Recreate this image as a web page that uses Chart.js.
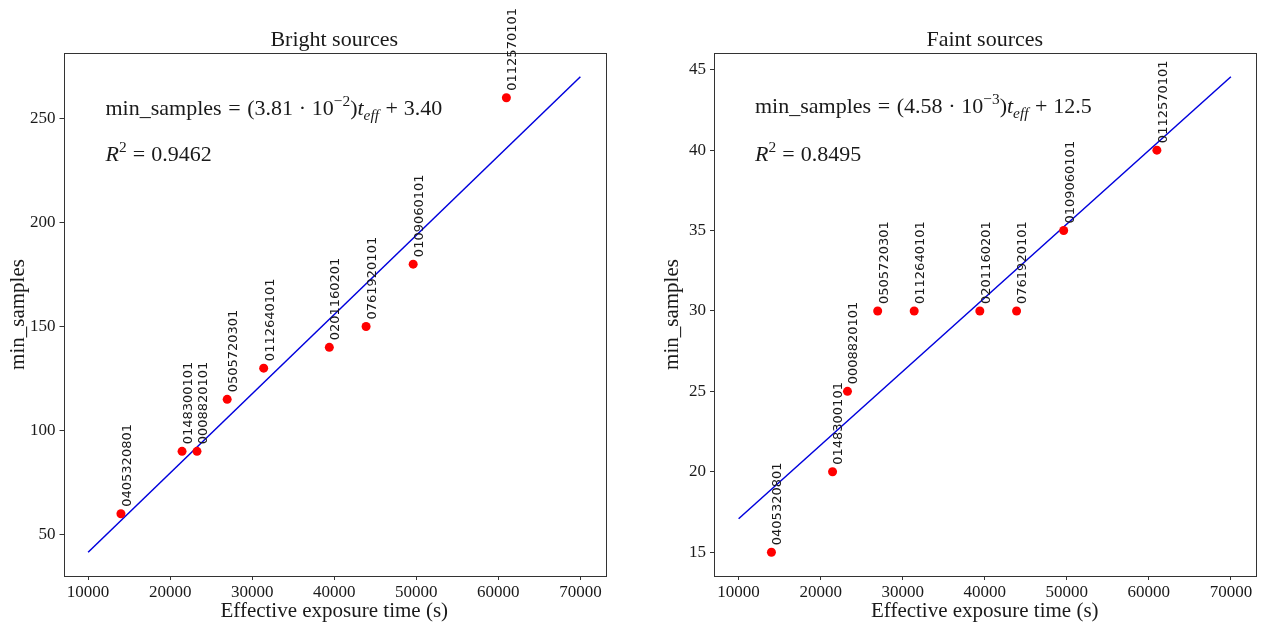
<!DOCTYPE html>
<html>
<head>
<meta charset="utf-8">
<script src="https://cdn.jsdelivr.net/npm/chart.js@4/dist/chart.umd.min.js"></script>
<style>
  html, body { margin: 0; padding: 0; background: #fff; }
  .panel { position: absolute; top: 0; height: 624px; }
  #leftPanel { left: 0; width: 660px; }
  #rightPanel { left: 660px; width: 603px; }
</style>
</head>
<body>
<div class="panel" id="leftPanel"><canvas id="chartBright"></canvas></div>
<div class="panel" id="rightPanel"><canvas id="chartFaint"></canvas></div>
<script>
// observations, shared by both panels
const obsIds = ['0405320801', '0148300101', '0008820101', '0505720301', '0112640101',
                '0201160201', '0761920101', '0109060101', '0112570101'];
const exposureTimes = [14000, 21450, 23270, 26950, 31400, 39400, 43880, 49620, 60980];
const brightMinSamples = [60, 90, 90, 115, 130, 140, 150, 180, 260];
const faintMinSamples = [15, 20, 25, 30, 30, 30, 30, 35, 40];

// linear fits, evaluated at the ends of the fitted range
const fitX = [10000, 70000];
const brightFitY = [41.5, 270.1];
const faintFitY = [17.08, 44.56];

const xTicks = [10000, 20000, 30000, 40000, 50000, 60000, 70000];
const brightYTicks = [50, 100, 150, 200, 250];
const faintYTicks = [15, 20, 25, 30, 35, 40, 45];

const SERIF = '"Liberation Serif", "DejaVu Serif", serif';
const INK = '#1a1a1a';

// draw a row of text runs (roman / italic / super / subscript)
function drawMath(ctx, x, y, runs, size) {
    let cx = x;
    runs.forEach(r => {
        const s = size * (r.scale || 1);
        ctx.font = (r.italic ? 'italic ' : '') + s + 'px ' + SERIF;
        cx += (r.pre || 0) * size;
        ctx.fillText(r.t, cx, y + (r.dy || 0) * size);
        cx += ctx.measureText(r.t).width + (r.post || 0) * size;
    });
}

const frameBox = {
    id: 'frameBox',
    afterDatasetsDraw(chart) {
        const { ctx, chartArea: a } = chart;
        ctx.save();
        ctx.strokeStyle = '#333';
        ctx.lineWidth = 1;
        ctx.strokeRect(Math.round(a.left) + 0.5, Math.round(a.top) + 0.5,
                       Math.round(a.right - a.left), Math.round(a.bottom - a.top));
        ctx.restore();
    }
};

const pointLabels = {
    id: 'pointLabels',
    afterDatasetsDraw(chart) {
        const { ctx } = chart;
        const meta = chart.getDatasetMeta(0);
        ctx.save();
        ctx.fillStyle = INK;
        ctx.font = '13px "DejaVu Sans"';
        ctx.textAlign = 'left';
        ctx.textBaseline = 'middle';
        meta.data.forEach((pt, i) => {
            ctx.save();
            ctx.translate(pt.x + 6.5, pt.y - 7);
            ctx.rotate(-Math.PI / 2);
            ctx.fillText(obsIds[i], 0, 0);
            ctx.restore();
        });
        ctx.restore();
    }
};

const fitText = {
    id: 'fitText',
    afterDraw(chart, args, opts) {
        const { ctx, chartArea: a } = chart;
        ctx.save();
        ctx.fillStyle = INK;
        ctx.textBaseline = 'alphabetic';
        ctx.textAlign = 'left';
        drawMath(ctx, a.left + opts.dx, a.top + opts.y1, opts.eq, 22);
        drawMath(ctx, a.left + opts.dx, a.top + opts.y2, opts.r2, 22);
        ctx.restore();
    }
};

function makeChart(canvasId, cfg) {
    const tickFont = { family: SERIF, size: 17 };
    return new Chart(document.getElementById(canvasId), {
        type: 'scatter',
        data: {
            datasets: [
                {
                    data: exposureTimes.map((x, i) => ({ x, y: cfg.values[i] })),
                    backgroundColor: '#ff0000',
                    borderColor: '#ff0000',
                    pointRadius: 4.5,
                    pointBorderWidth: 0
                },
                {
                    data: fitX.map((x, i) => ({ x, y: cfg.fitY[i] })),
                    showLine: true,
                    borderColor: '#0000dd',
                    borderWidth: 1.5,
                    pointRadius: 0
                }
            ]
        },
        options: {
            responsive: true,
            maintainAspectRatio: false,
            animation: false,
            layout: { padding: { left: 0, right: cfg.padRight, top: 0, bottom: 0 } },
            plugins: {
                legend: { display: false },
                tooltip: { enabled: false },
                title: {
                    display: true,
                    text: cfg.title,
                    fullSize: false,
                    color: INK,
                    font: { family: SERIF, size: 22, weight: 'normal' },
                    padding: { top: 26.6, bottom: 0 }
                },
                fitText: { dx: cfg.textDx, y1: cfg.textY1, y2: cfg.textY2, eq: cfg.eq, r2: cfg.r2 }
            },
            scales: {
                x: {
                    type: 'linear',
                    min: 7000,
                    max: 73000,
                    afterBuildTicks: s => { s.ticks = xTicks.map(v => ({ value: v })); },
                    afterFit: s => { s.height = 48; },
                    border: { display: false },
                    grid: { drawOnChartArea: false, drawTicks: true, tickLength: 4, color: '#333' },
                    ticks: { color: INK, font: tickFont, padding: 2, maxRotation: 0, callback: v => String(v) },
                    title: {
                        display: true,
                        text: 'Effective exposure time (s)',
                        color: INK,
                        font: { family: SERIF, size: 21 },
                        padding: { top: 0, bottom: 0 }
                    }
                },
                y: {
                    type: 'linear',
                    min: cfg.yMin,
                    max: cfg.yMax,
                    afterBuildTicks: s => { s.ticks = cfg.yTicks.map(v => ({ value: v })); },
                    afterFit: s => { s.width = cfg.axisWidth; },
                    border: { display: false },
                    grid: { drawOnChartArea: false, drawTicks: true, tickLength: 4, color: '#333' },
                    ticks: { color: INK, font: tickFont, padding: 4, callback: v => String(v) },
                    title: {
                        display: true,
                        text: 'min_samples',
                        color: INK,
                        font: { family: SERIF, size: 21 },
                        padding: { top: cfg.yTitlePad, bottom: 0 }
                    }
                }
            }
        },
        plugins: [frameBox, pointLabels, fitText]
    });
}

makeChart('chartBright', {
    title: 'Bright sources',
    values: brightMinSamples,
    fitY: brightFitY,
    yTicks: brightYTicks,
    yMin: 30.07,
    yMax: 281.5,
    padRight: 55,
    axisWidth: 63.5,
    yTitlePad: 5.8,
    textDx: 42,
    textY1: 62,
    textY2: 107.5,
    eq: [
        { t: 'min_samples' },
        { t: '=', pre: 0.3, post: 0.3 },
        { t: '(3.81' },
        { t: '·', pre: 0.26, post: 0.26 },
        { t: '10' },
        { t: '−2', scale: 0.7, dy: -0.4 },
        { t: ')' },
        { t: 't', italic: true },
        { t: 'eff', italic: true, scale: 0.7, dy: 0.22, post: 0.04 },
        { t: '+', pre: 0.26, post: 0.26 },
        { t: '3.40' }
    ],
    r2: [
        { t: 'R', italic: true },
        { t: '2', scale: 0.7, dy: -0.4 },
        { t: '=', pre: 0.28, post: 0.28 },
        { t: '0.9462' }
    ]
});

makeChart('chartFaint', {
    title: 'Faint sources',
    values: faintMinSamples,
    fitY: faintFitY,
    yTicks: faintYTicks,
    yMin: 13.52,
    yMax: 46.04,
    padRight: 7.5,
    axisWidth: 54,
    yTitlePad: 0,
    textDx: 41,
    textY1: 60,
    textY2: 108,
    eq: [
        { t: 'min_samples' },
        { t: '=', pre: 0.3, post: 0.3 },
        { t: '(4.58' },
        { t: '·', pre: 0.26, post: 0.26 },
        { t: '10' },
        { t: '−3', scale: 0.7, dy: -0.4 },
        { t: ')' },
        { t: 't', italic: true },
        { t: 'eff', italic: true, scale: 0.7, dy: 0.22, post: 0.04 },
        { t: '+', pre: 0.26, post: 0.26 },
        { t: '12.5' }
    ],
    r2: [
        { t: 'R', italic: true },
        { t: '2', scale: 0.7, dy: -0.4 },
        { t: '=', pre: 0.28, post: 0.28 },
        { t: '0.8495' }
    ]
});
</script>
</body>
</html>
